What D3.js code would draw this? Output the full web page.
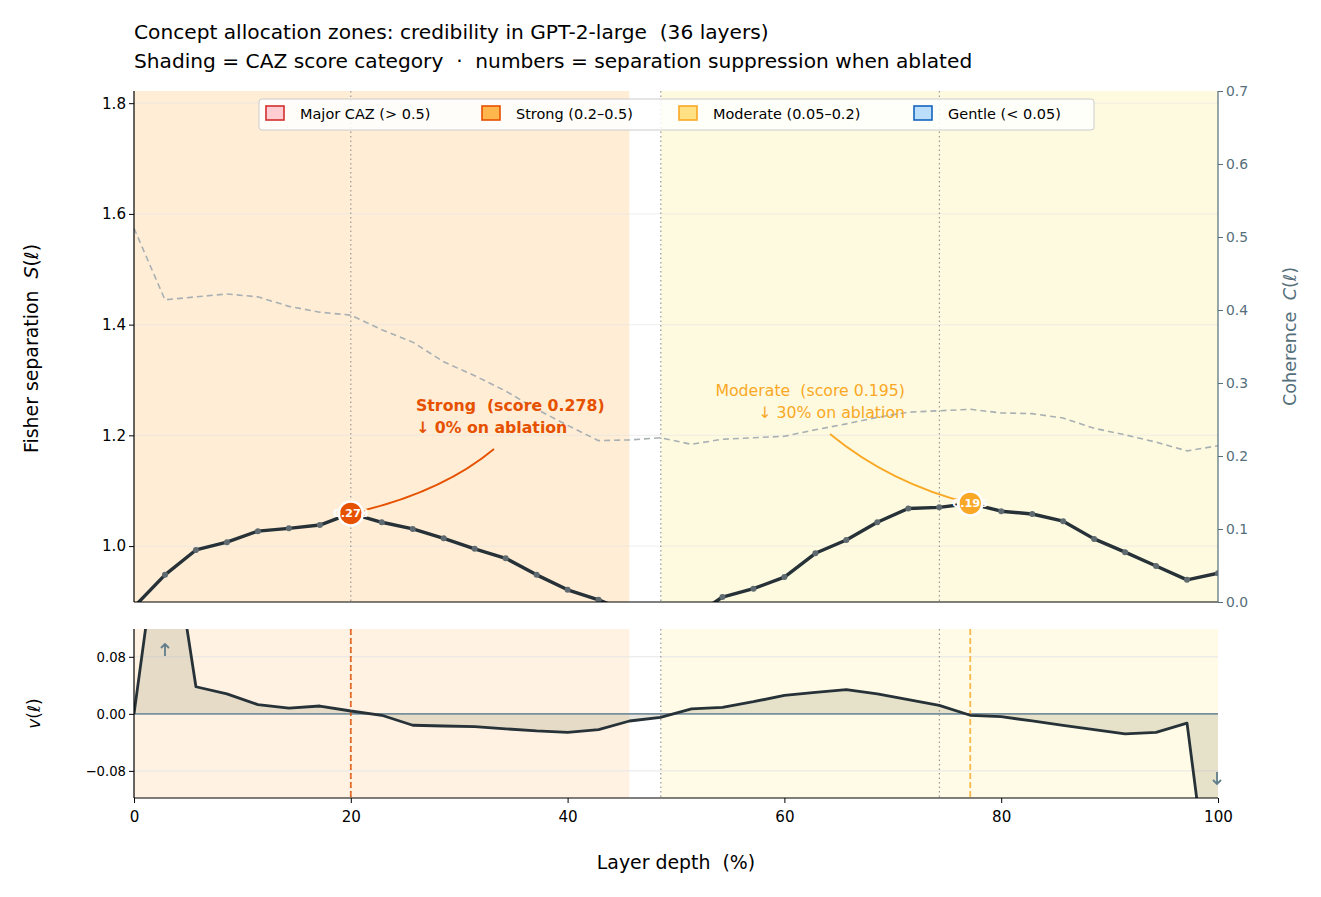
<!DOCTYPE html>
<html><head><meta charset="utf-8">
<script src="https://cdn.jsdelivr.net/npm/d3@7/dist/d3.min.js"></script>
<style>body{margin:0;background:#fff}text{font-family:"DejaVu Sans",sans-serif;white-space:pre}</style>
</head><body><svg id="c" width="1321" height="897"></svg>
<script>
const layers = d3.range(36);
const separation = [0.89,0.948,0.993,1.007,1.027,1.032,1.038,1.059,1.043,1.031,1.014,0.995,0.978,0.948,0.921,0.903,0.88,0.86,0.87,0.908,0.923,0.944,0.987,1.011,1.043,1.068,1.070,1.077,1.063,1.058,1.045,1.013,0.989,0.964,0.939,0.951];
const coherence = [0.512,0.414,0.418,0.422,0.418,0.405,0.397,0.393,0.373,0.356,0.329,0.310,0.289,0.264,0.242,0.221,0.222,0.225,0.216,0.223,0.225,0.227,0.236,0.244,0.253,0.260,0.262,0.264,0.259,0.258,0.252,0.238,0.229,0.219,0.207,0.214];
const velocity = [0,0.32,0.038,0.028,0.013,0.008,0.011,0.004,-0.002,-0.016,-0.017,-0.018,-0.021,-0.024,-0.026,-0.022,-0.010,-0.005,0.007,0.009,0.017,0.026,0.030,0.034,0.028,0.020,0.012,-0.002,-0.004,-0.010,-0.016,-0.022,-0.028,-0.026,-0.013,-0.35];
const zones = [{start:0,end:45.7,fill:"#ffedd5",fillV:"#fff2e2"},{start:48.6,end:100,fill:"#fefadf",fillV:"#fffbe6"}];
const bounds = [20,48.6,74.3];
const peaks = [{layer:7,label:"0.278",color:"#e65100",t1:"Strong  (score 0.278)",t2:"↓ 0% on ablation"},
               {layer:27,label:"0.195",color:"#f9a825",t1:"Moderate  (score 0.195)",t2:"↓ 30% on ablation"}];
const legendItems = [{t:"Major CAZ (> 0.5)",f:"#ffcdd2",s:"#d32f2f"},{t:"Strong (0.2–0.5)",f:"#ffb74d",s:"#e65100"},{t:"Moderate (0.05–0.2)",f:"#ffe082",s:"#f9a825"},{t:"Gentle (< 0.05)",f:"#bbdefb",s:"#1565c0"}];
const sTicks=[1.0,1.2,1.4,1.6,1.8], cTicks=[0,0.1,0.2,0.3,0.4,0.5,0.6,0.7], vTicks=[-0.08,0,0.08], xTicks=[0,20,40,60,80,100];

const F=1.26;
const svg=d3.select("#c");
const L=134,R=1218,T1=91,B1=602,T2=629,B2=798;
const depth=i=>i/35*100;
const x=d3.scaleLinear([0,100],[L,R]);
const yS=d3.scaleLinear([0.899,1.822],[B1,T1]);
const yC=d3.scaleLinear([0,0.7],[B1,T1]);
const yV=d3.scaleLinear([-0.118,0.119],[B2,T2]);

svg.append("text").attr("x",134).attr("y",39).attr("font-size",16*F).text("Concept allocation zones: credibility in GPT-2-large  (36 layers)");
svg.append("text").attr("x",134).attr("y",68).attr("font-size",16*F).text("Shading = CAZ score category  ·  numbers = separation suppression when ablated");

const defs=svg.append("defs");
defs.append("clipPath").attr("id","cp1").append("rect").attr("x",L).attr("y",T1).attr("width",R-L).attr("height",B1-T1);
defs.append("clipPath").attr("id","cp2").append("rect").attr("x",L).attr("y",T2).attr("width",R-L).attr("height",B2-T2);

const g1=svg.append("g");
zones.forEach(z=>g1.append("rect").attr("x",x(z.start)).attr("width",x(z.end)-x(z.start)).attr("y",T1).attr("height",B1-T1).attr("fill",z.fill));
sTicks.forEach(t=>g1.append("line").attr("x1",L).attr("x2",R).attr("y1",yS(t)).attr("y2",yS(t)).attr("stroke","#e6e6e6").attr("stroke-width",0.8).attr("opacity",0.8));
bounds.forEach(b=>g1.append("line").attr("x1",x(b)).attr("x2",x(b)).attr("y1",T1).attr("y2",B1).attr("stroke","#999").attr("stroke-width",1.2).attr("stroke-dasharray","1.5,3"));
const gc=g1.append("g").attr("clip-path","url(#cp1)");
gc.append("path").datum(layers).attr("fill","none").attr("stroke","#a9b0b3").attr("stroke-width",1.6).attr("stroke-dasharray","6,4")
  .attr("d",d3.line().x(i=>x(depth(i))).y(i=>yC(coherence[i])));
gc.append("path").datum(layers).attr("fill","none").attr("stroke","#263238").attr("stroke-width",3.4).attr("stroke-linejoin","round")
  .attr("d",d3.line().x(i=>x(depth(i))).y(i=>yS(separation[i])));
gc.selectAll(".pt").data(layers).join("circle").attr("cx",i=>x(depth(i))).attr("cy",i=>yS(separation[i])).attr("r",3).attr("fill","#5f6b70");
peaks.forEach((p,k)=>{
  const px=x(depth(p.layer)),py=yS(separation[p.layer]);
  if(k===0){
    g1.append("path").attr("d",`M${px},${py} Q${px+90},${py-20} ${494},${449}`).attr("fill","none").attr("stroke",p.color).attr("stroke-width",1.8);
    g1.append("text").attr("x",416).attr("y",411).attr("font-size",12.5*F).attr("font-weight","bold").attr("fill",p.color).text(p.t1);
    g1.append("text").attr("x",416).attr("y",433).attr("font-size",12.5*F).attr("font-weight","bold").attr("fill",p.color).text(p.t2);
  } else {
    g1.append("path").attr("d",`M${px},${py} Q${px-80},${py-20} ${830},${434}`).attr("fill","none").attr("stroke",p.color).attr("stroke-width",1.8);
    g1.append("text").attr("x",905).attr("y",396).attr("text-anchor","end").attr("font-size",12.5*F).attr("fill",p.color).text(p.t1);
    g1.append("text").attr("x",905).attr("y",418).attr("text-anchor","end").attr("font-size",12.5*F).attr("fill",p.color).text(p.t2);
  }
  g1.append("circle").attr("cx",px).attr("cy",py).attr("r",12).attr("fill",p.color).attr("stroke","#fff").attr("stroke-width",2.5);
  g1.append("text").attr("x",px).attr("y",py+4).attr("text-anchor","middle").attr("font-size",9*F).attr("font-weight","bold").attr("fill","#fff").text(p.label);
});
g1.append("line").attr("x1",L).attr("x2",R).attr("y1",B1).attr("y2",B1).attr("stroke","#000").attr("stroke-width",1.2);
g1.append("line").attr("x1",L).attr("x2",L).attr("y1",T1).attr("y2",B1).attr("stroke","#000").attr("stroke-width",1.2);
g1.append("line").attr("x1",R).attr("x2",R).attr("y1",T1).attr("y2",B1).attr("stroke","#546e7a").attr("stroke-width",1.2);
const axL=svg.append("g").attr("transform",`translate(${L},0)`).call(d3.axisLeft(yS).tickValues(sTicks).tickFormat(d3.format(".1f")).tickSize(5).tickSizeOuter(0));
axL.select(".domain").remove(); axL.selectAll("text").attr("font-size",12*F).attr("font-family","DejaVu Sans").attr("fill","#000");
const axR=svg.append("g").attr("transform",`translate(${R},0)`).call(d3.axisRight(yC).tickValues(cTicks).tickFormat(d3.format(".1f")).tickSize(5));
axR.select(".domain").remove(); axR.selectAll("line").attr("stroke","#546e7a"); axR.selectAll("text").attr("font-size",11*F).attr("font-family","DejaVu Sans").attr("fill","#546e7a");
svg.append("text").attr("transform",`translate(38,${(T1+B1)/2+2}) rotate(-90)`).attr("text-anchor","middle").attr("font-size",15*F).html('Fisher separation  <tspan font-style="italic">S</tspan>(<tspan font-style="italic">ℓ</tspan>)');
svg.append("text").attr("transform",`translate(1296,${(T1+B1)/2-10}) rotate(-90)`).attr("text-anchor","middle").attr("font-size",14*F).attr("fill","#546e7a").html('Coherence  <tspan font-style="italic">C</tspan>(<tspan font-style="italic">ℓ</tspan>)');

const lg=svg.append("g");
lg.append("rect").attr("x",259).attr("y",99).attr("width",835).attr("height",31).attr("rx",3).attr("fill","#fff").attr("fill-opacity",0.85).attr("stroke","#ccc");
let lx=266;
const widths=[216,197,235,180];
legendItems.forEach((it,i)=>{
  lg.append("rect").attr("x",lx).attr("y",106).attr("width",18).attr("height",14).attr("fill",it.f).attr("stroke",it.s).attr("stroke-width",1.6);
  lg.append("text").attr("x",lx+34).attr("y",119).attr("font-size",11.5*F).text(it.t);
  lx+=widths[i];
});

const g2=svg.append("g");
zones.forEach(z=>g2.append("rect").attr("x",x(z.start)).attr("width",x(z.end)-x(z.start)).attr("y",T2).attr("height",B2-T2).attr("fill",z.fillV));
vTicks.forEach(t=>g2.append("line").attr("x1",L).attr("x2",R).attr("y1",yV(t)).attr("y2",yV(t)).attr("stroke","#e6e6e6").attr("stroke-width",1));
bounds.forEach(b=>g2.append("line").attr("x1",x(b)).attr("x2",x(b)).attr("y1",T2).attr("y2",B2).attr("stroke","#999").attr("stroke-width",1.2).attr("stroke-dasharray","1.5,3"));
const gv=g2.append("g").attr("clip-path","url(#cp2)");
gv.append("path").datum(layers).attr("fill","#8d8a6a").attr("fill-opacity",0.22)
  .attr("d",d3.area().x(i=>x(depth(i))).y0(yV(0)).y1(i=>yV(velocity[i])));
gv.append("line").attr("x1",L).attr("x2",R).attr("y1",yV(0)).attr("y2",yV(0)).attr("stroke","#78909c").attr("stroke-width",1.8);
peaks.forEach(p=>gv.append("line").attr("x1",x(depth(p.layer))).attr("x2",x(depth(p.layer))).attr("y1",T2).attr("y2",B2).attr("stroke",p.color).attr("stroke-width",1.8).attr("stroke-dasharray","6,3").attr("opacity",0.8));
gv.append("path").datum(layers).attr("fill","none").attr("stroke","#263238").attr("stroke-width",2.8).attr("stroke-linejoin","round")
  .attr("d",d3.line().x(i=>x(depth(i))).y(i=>yV(velocity[i])));
const arr=(cx,cy,up)=>{const s=up?-1:1;
  g2.append("path").attr("d",`M${cx},${cy-6*s} L${cx},${cy+6*s} M${cx-4},${cy+2*s} L${cx},${cy+6*s} L${cx+4},${cy+2*s}`).attr("fill","none").attr("stroke","#607d8b").attr("stroke-width",1.8);};
arr(x(depth(1)),650,true); arr(x(100)-1,778,false);
g2.append("line").attr("x1",L).attr("x2",R).attr("y1",B2).attr("y2",B2).attr("stroke","#000").attr("stroke-width",1.2);
g2.append("line").attr("x1",L).attr("x2",L).attr("y1",T2).attr("y2",B2).attr("stroke","#000").attr("stroke-width",1.2);
const axV=svg.append("g").attr("transform",`translate(${L},0)`).call(d3.axisLeft(yV).tickValues(vTicks).tickFormat(d=>d===0?"0.00":d3.format(".2f")(d).replace("-","−")).tickSize(5));
axV.select(".domain").remove(); axV.selectAll("text").attr("font-size",10.5*F).attr("font-family","DejaVu Sans").attr("fill","#000");
svg.append("text").attr("transform",`translate(40,${(T2+B2)/2}) rotate(-90)`).attr("text-anchor","middle").attr("font-size",13.5*F).html('<tspan font-style="italic">v</tspan>(<tspan font-style="italic">ℓ</tspan>)');
const axX=svg.append("g").attr("transform",`translate(0,${B2})`).call(d3.axisBottom(x).tickValues(xTicks).tickSize(5));
axX.select(".domain").remove(); axX.selectAll("text").attr("font-size",12*F).attr("font-family","DejaVu Sans").attr("fill","#000").attr("dy","1.05em");
svg.append("text").attr("x",676).attr("y",869).attr("text-anchor","middle").attr("font-size",15*F).text("Layer depth  (%)");
</script></body></html>
